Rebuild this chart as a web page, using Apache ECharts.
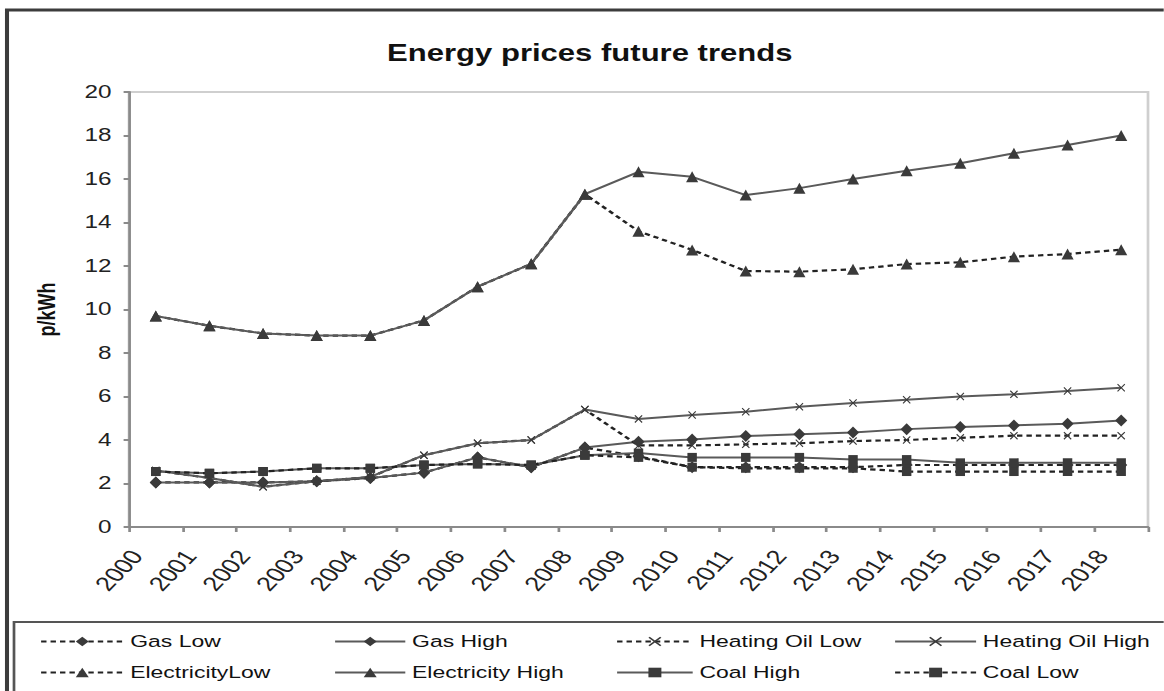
<!DOCTYPE html>
<html>
<head>
<meta charset="utf-8">
<script src="https://cdn.jsdelivr.net/npm/echarts@6/dist/echarts.min.js"></script>
<style>
  html, body { margin: 0; padding: 0; background: #fff; overflow: hidden; }
  #wrap { width: 1164px; height: 691px; overflow: hidden; position: relative; }
  #chart { position: absolute; left: 0; top: 0; height: 691px; transform-origin: 0 0; }
</style>
</head>
<body>
<div id="wrap"><div id="chart"></div></div>
<script>
// ---- data ----
const years = ['2000','2001','2002','2003','2004','2005','2006','2007','2008','2009',
               '2010','2011','2012','2013','2014','2015','2016','2017','2018'];
const gasLow   = [2.05, 2.05, 2.05, 2.1, 2.25, 2.5, 3.2, 2.75, 3.65, 3.25, 2.75, 2.75, 2.75, 2.75, 2.85, 2.85, 2.85, 2.85, 2.85];
const gasHigh  = [2.05, 2.05, 2.05, 2.1, 2.25, 2.5, 3.2, 2.75, 3.65, 3.92, 4.02, 4.18, 4.27, 4.35, 4.5, 4.6, 4.67, 4.75, 4.9];
const heatLow  = [2.6, 2.25, 1.85, 2.1, 2.3, 3.3, 3.85, 4.0, 5.4, 3.75, 3.75, 3.8, 3.85, 3.95, 4.0, 4.1, 4.2, 4.2, 4.2];
const heatHigh = [2.6, 2.25, 1.85, 2.1, 2.3, 3.3, 3.85, 4.0, 5.4, 4.97, 5.15, 5.3, 5.53, 5.7, 5.85, 6.0, 6.1, 6.25, 6.4];
const elecLow  = [9.7, 9.25, 8.9, 8.8, 8.8, 9.5, 11.05, 12.1, 15.3, 13.6, 12.74, 11.77, 11.74, 11.85, 12.09, 12.17, 12.43, 12.55, 12.75];
const elecHigh = [9.7, 9.25, 8.9, 8.8, 8.8, 9.5, 11.05, 12.1, 15.3, 16.33, 16.1, 15.26, 15.58, 16.0, 16.38, 16.72, 17.18, 17.56, 18.0];
const coalHigh = [2.55, 2.47, 2.55, 2.7, 2.7, 2.85, 2.9, 2.85, 3.3, 3.4, 3.2, 3.2, 3.2, 3.1, 3.1, 2.95, 2.95, 2.95, 2.95];
const coalLow  = [2.55, 2.47, 2.55, 2.7, 2.7, 2.85, 2.9, 2.85, 3.3, 3.2, 2.75, 2.7, 2.7, 2.7, 2.55, 2.55, 2.55, 2.55, 2.55];
const yTicks = [0, 2, 4, 6, 8, 10, 12, 14, 16, 18, 20];

// ---- layout: the reference picture is stretched horizontally ----
const S = 1.35;
const W = 1164 / S;
const X = v => v / S;   // reference x -> chart x
const el = document.getElementById('chart');
el.style.width = W + 'px';
el.style.transform = 'scaleX(' + S + ')';

const FONT = "'Liberation Sans', Arial, sans-serif";
const crossPath = 'path://M0,1 L1,0 L5,4 L9,0 L10,1 L6,5 L10,9 L9,10 L5,6 L1,10 L0,9 L4,5 Z';
const HIGH_LINE = '#5a5a5a';
const LOW_LINE = '#222';
const MARK = '#3a3a3a';
// rotation so that labels look 45 degrees after the horizontal stretch
const LABEL_ROT = Math.atan(S) * 180 / Math.PI;

function mk(name, data, low, symbol, size) {
  return {
    name: name, type: 'line', data: data,
    symbol: symbol, symbolSize: size, showSymbol: true,
    lineStyle: low ? { color: LOW_LINE, width: 2.2, type: [4, 3] } : { color: HIGH_LINE, width: 2, type: 'solid' },
    itemStyle: { color: MARK, borderWidth: 0 },
    emphasis: { disabled: true },
    animation: false
  };
}

const chart = echarts.init(el, null, { renderer: 'svg', width: W, height: 691 });

function legendCol(names, leftRef, itemW) {
  return {
    orient: 'vertical', left: X(leftRef), top: 628,
    itemWidth: itemW, itemHeight: 12, itemGap: 14,
    selectedMode: false,
    data: names,
    textStyle: { fontFamily: FONT, fontSize: 17, color: '#111' }
  };
}

chart.setOption({
  backgroundColor: '#fff',
  animation: false,
  title: {
    text: 'Energy prices future trends',
    left: X(583), top: 36, textAlign: 'center',
    textStyle: { fontFamily: FONT, fontSize: 23, fontWeight: 'bold', color: '#111' }
  },
  grid: {
    left: X(129), right: W - X(1148), top: 92, bottom: 691 - 527,
    show: true, borderColor: '#cfcfcf', borderWidth: 2, backgroundColor: 'transparent'
  },
  xAxis: {
    type: 'category', data: years, boundaryGap: true,
    axisLine: { lineStyle: { color: '#8a8a8a', width: 2 } },
    axisTick: { show: true, length: 5, lineStyle: { color: '#8a8a8a', width: 2 } },
    axisLabel: { rotate: LABEL_ROT, interval: 0, margin: 6, padding: [0, 24, 0, 0],
                 fontFamily: FONT, fontSize: 20, color: '#222' },
    splitLine: { show: false }
  },
  yAxis: {
    type: 'value', min: yTicks[0], max: yTicks[yTicks.length - 1], interval: 2,
    name: 'p/kWh', nameLocation: 'middle', nameGap: 52, nameRotate: 90,
    nameTextStyle: { fontFamily: FONT, fontSize: 18, fontWeight: 'bold', color: '#111' },
    axisLine: { show: true, lineStyle: { color: '#8a8a8a', width: 2 } },
    axisTick: { show: true, length: 4, lineStyle: { color: '#8a8a8a', width: 2 } },
    axisLabel: { margin: 13, fontFamily: FONT, fontSize: 18, color: '#222' },
    splitLine: { show: false }
  },
  legend: [
    legendCol(['Gas Low', 'ElectricityLow'], 33, 61),
    legendCol(['Gas High', 'Electricity High'], 327, 52),
    legendCol(['Heating Oil Low', 'Coal High'], 609, 56),
    legendCol(['Heating Oil High', 'Coal Low'], 887, 60)
  ],
  graphic: [
    { type: 'rect', z: -1, shape: { x: X(7), y: 10, width: 1200, height: 1000 },
      style: { fill: 'none', stroke: '#3c3c3c', lineWidth: 3 } },
    { type: 'rect', z: -1, shape: { x: X(14), y: 622, width: 1200, height: 300 },
      style: { fill: 'none', stroke: '#555', lineWidth: 2 } }
  ],
  series: [
    mk('Gas Low', gasLow, true, 'diamond', [9, 12]),
    mk('Gas High', gasHigh, false, 'diamond', [9, 12]),
    mk('Heating Oil Low', heatLow, true, crossPath, [6, 8]),
    mk('Heating Oil High', heatHigh, false, crossPath, [6, 8]),
    mk('ElectricityLow', elecLow, true, 'triangle', [9, 11]),
    mk('Electricity High', elecHigh, false, 'triangle', [9, 11]),
    mk('Coal High', coalHigh, false, 'rect', [7, 9]),
    mk('Coal Low', coalLow, true, 'rect', [7, 9])
  ]
});
</script>
</body>
</html>
